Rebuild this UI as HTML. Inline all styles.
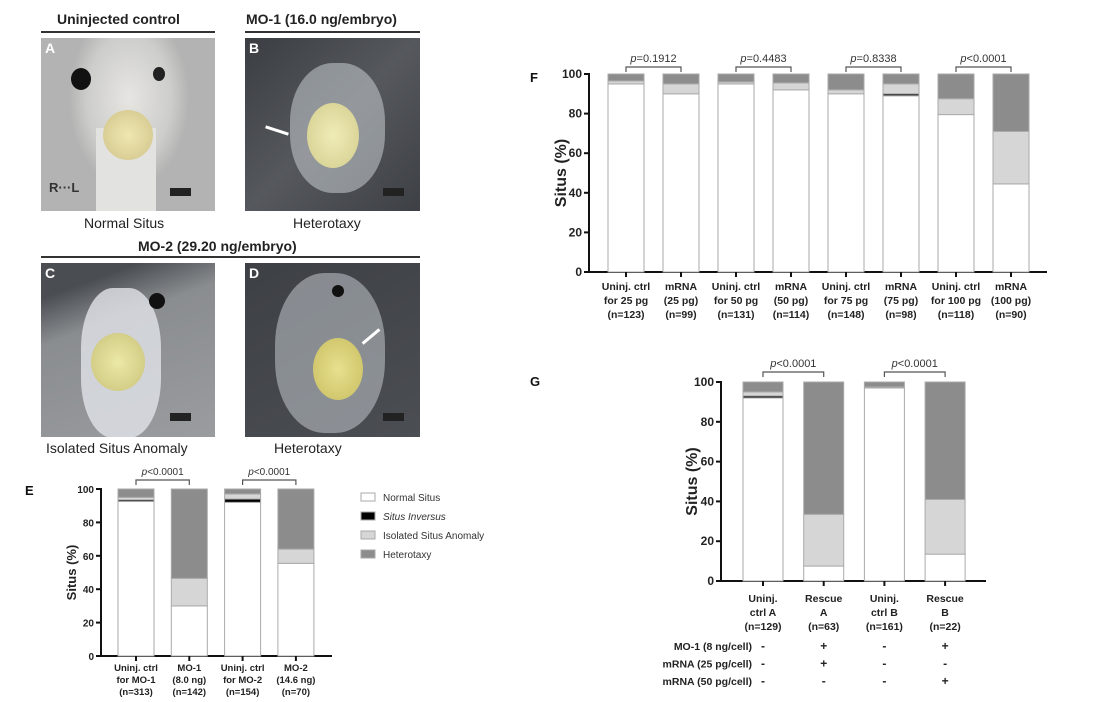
<!DOCTYPE html>
<html><head><meta charset="utf-8">
<style>
html,body{margin:0;padding:0;background:#fff;}
body{width:1109px;height:702px;position:relative;overflow:hidden;font-family:"Liberation Sans",Arial,sans-serif;}
.ph{position:absolute;overflow:hidden;}
.lbl{position:absolute;font-weight:bold;font-size:14px;color:#fff;}
.t{position:absolute;font-size:14px;color:#222;white-space:nowrap;}
.tb{position:absolute;font-size:14px;font-weight:bold;color:#222;white-space:nowrap;}
.line{position:absolute;height:2px;background:#333;}
.sb{position:absolute;width:21px;height:8px;background:#222;}
</style></head>
<body>
<div class="tb" style="left:57px;top:11px;">Uninjected control</div>
<div class="line" style="left:41px;top:31px;width:174px;"></div>
<div class="tb" style="left:246px;top:11px;font-weight:bold;">MO-1 (16.0 ng/embryo)</div>
<div class="line" style="left:245px;top:31px;width:175px;"></div>

<div class="ph" style="left:41px;top:38px;width:174px;height:173px;background:radial-gradient(ellipse 60px 90px at 88px 60px,#e6e5e2,#cdcdcb 70%,#b3b3b3);">
 <div style="position:absolute;left:55px;top:90px;width:60px;height:90px;background:#e2e2e0;"></div>
 <div style="position:absolute;left:30px;top:30px;width:20px;height:22px;border-radius:50%;background:#111;"></div>
 <div style="position:absolute;left:112px;top:29px;width:12px;height:14px;border-radius:50%;background:#222;"></div>
 <div style="position:absolute;left:62px;top:72px;width:50px;height:50px;border-radius:50%;background:radial-gradient(#efe6b0,#cfc48a);"></div>
 <div class="lbl" style="left:4px;top:2px;">A</div>
 <div class="tb" style="left:8px;top:142px;font-size:13px;color:#333;">R···L</div>
 <div class="sb" style="left:129px;top:150px;"></div>
</div>
<div class="ph" style="left:245px;top:38px;width:175px;height:173px;background:linear-gradient(135deg,#3a3d42,#55585d 50%,#3d4045);">
 <div style="position:absolute;left:45px;top:25px;width:95px;height:130px;border-radius:45%;background:rgba(200,205,210,0.55);"></div>
 <div style="position:absolute;left:62px;top:65px;width:52px;height:65px;border-radius:50%;background:radial-gradient(#f0ecb8,#d2cc8c);"></div>
 <div class="lbl" style="left:4px;top:2px;">B</div>
 <div style="position:absolute;left:20px;top:91px;width:24px;height:3px;background:#fff;transform:rotate(18deg);"></div>
 <div class="sb" style="left:138px;top:150px;"></div>
</div>
<div class="t" style="left:84px;top:215px;">Normal Situs</div>
<div class="t" style="left:293px;top:215px;">Heterotaxy</div>
<div class="tb" style="left:138px;top:238px;">MO-2 (29.20 ng/embryo)</div>
<div class="line" style="left:41px;top:256px;width:379px;"></div>

<div class="ph" style="left:41px;top:263px;width:174px;height:174px;background:linear-gradient(160deg,#4a4d52 15%,#8a8d90 35%,#9a9c9f);">
 <div style="position:absolute;left:40px;top:25px;width:80px;height:150px;border-radius:40%;background:rgba(225,228,232,0.8);"></div>
 <div style="position:absolute;left:108px;top:30px;width:16px;height:16px;border-radius:50%;background:#111;"></div>
 <div style="position:absolute;left:50px;top:70px;width:54px;height:58px;border-radius:50%;background:radial-gradient(#ece9a6,#c9c27a);"></div>
 <div class="lbl" style="left:4px;top:2px;">C</div>
 <div class="sb" style="left:129px;top:150px;"></div>
</div>
<div class="ph" style="left:245px;top:263px;width:175px;height:174px;background:linear-gradient(150deg,#3d4045,#4b4e53);">
 <div style="position:absolute;left:30px;top:10px;width:110px;height:160px;border-radius:45%;background:rgba(195,200,205,0.55);"></div>
 <div style="position:absolute;left:87px;top:22px;width:12px;height:12px;border-radius:50%;background:#111;"></div>
 <div style="position:absolute;left:68px;top:75px;width:50px;height:62px;border-radius:50%;background:radial-gradient(#e9e08f,#c7bd60);"></div>
 <div class="lbl" style="left:4px;top:2px;">D</div>
 <div style="position:absolute;left:115px;top:72px;width:22px;height:3px;background:#fff;transform:rotate(-40deg);"></div>
 <div class="sb" style="left:138px;top:150px;"></div>
</div>
<div class="t" style="left:46px;top:440px;">Isolated Situs Anomaly</div>
<div class="t" style="left:274px;top:440px;">Heterotaxy</div>

<svg id="svg" width="1109" height="702" style="position:absolute;left:0;top:0;" xmlns="http://www.w3.org/2000/svg"></svg>

<script>
// Panel E
const eCats = [["Uninj. ctrl","for MO-1","(n=313)"],["MO-1","(8.0 ng)","(n=142)"],["Uninj. ctrl","for MO-2","(n=154)"],["MO-2","(14.6 ng)","(n=70)"]];
const eNormal = [92.5, 30, 92, 55.5];
const eInversus = [1, 0, 2, 0];
const eIsolated = [1.5, 16.5, 3, 8.5];
const eHetero = [5, 53.5, 3, 36];
const ePvals = ["p<0.0001","p<0.0001"];
// Panel F
const fCats = [["Uninj. ctrl","for 25 pg","(n=123)"],["mRNA","(25 pg)","(n=99)"],["Uninj. ctrl","for 50 pg","(n=131)"],["mRNA","(50 pg)","(n=114)"],["Uninj. ctrl","for 75 pg","(n=148)"],["mRNA","(75 pg)","(n=98)"],["Uninj. ctrl","for 100 pg","(n=118)"],["mRNA","(100 pg)","(n=90)"]];
const fNormal = [95, 90, 95, 92, 90, 89, 79.5, 44.5];
const fInversus = [0, 0, 0, 0, 0, 1, 0, 0];
const fIsolated = [1.5, 5, 1, 3.5, 2, 5, 8, 26.5];
const fHetero = [3.5, 5, 4, 4.5, 8, 5, 12.5, 29];
const fPvals = ["p=0.1912","p=0.4483","p=0.8338","p<0.0001"];
// Panel G
const gCats = [["Uninj.","ctrl A","(n=129)"],["Rescue","A","(n=63)"],["Uninj.","ctrl B","(n=161)"],["Rescue","B","(n=22)"]];
const gNormal = [92, 7.5, 97, 13.5];
const gInversus = [1, 0, 0, 0];
const gIsolated = [2, 26, 0.5, 27.5];
const gHetero = [5, 66.5, 2.5, 59];
const gPvals = ["p<0.0001","p<0.0001"];
const gRowLabels = ["MO-1 (8 ng/cell)","mRNA (25 pg/cell)","mRNA (50 pg/cell)"];
const gRowSigns = [["-","+","-","+"],["-","+","-","-"],["-","-","-","+"]];
const yTicks = [0,20,40,60,80,100];
const legendLabels = ["Normal Situs","Situs Inversus","Isolated Situs Anomaly","Heterotaxy"];

const svg = document.getElementById('svg');
const NS = "http://www.w3.org/2000/svg";
function mk(tag, attrs, parent){const e=document.createElementNS(NS,tag);for(const k in attrs)e.setAttribute(k,attrs[k]);(parent||svg).appendChild(e);return e;}
function txt(x,y,s,attrs,parent){const e=mk('text',Object.assign({x:x,y:y},attrs),parent);e.textContent=s;return e;}
const fills = ["#ffffff","#000000","#d6d6d6","#8c8c8c"];

function chart(o){
  const g = mk('g',{});
  
  
  const yS = v => o.y0 + (o.y100 - o.y0) * v / 100;
  const xS = i => o.x0c + i * o.step;
  const ya = mk('line',{x1:o.ax,y1:yS(100)-1,x2:o.ax,y2:yS(0)+1,stroke:'#111','stroke-width':2},g);
  
  
  yTicks.forEach(t=>{
    mk('line',{x1:o.ax-5,y1:yS(t),x2:o.ax,y2:yS(t),stroke:'#111','stroke-width':2},g);
    const tl = txt(o.ax-7,yS(t)+4,String(t),{'text-anchor':'end','font-size':o.fs,'font-weight':'bold',fill:'#222'},g);
    
    
  });
  const xa = mk('line',{x1:o.ax-5,y1:yS(0),x2:o.axEnd,y2:yS(0),stroke:'#111','stroke-width':2},g);
  
  
  const yt = txt(0,0,'Situs (%)',{'text-anchor':'middle','font-size':o.tfs,'font-weight':'bold',fill:'#222',transform:`translate(${o.titleX},${(yS(0)+yS(100))/2}) rotate(-90)`},g);
  
  
  o.cats.forEach((c,i)=>{
    const cx = xS(i);
    const series=[o.n[i],o.si[i],o.isa[i],o.h[i]];
    let acc=0;
    series.forEach((v,k)=>{
      if(v<=0){return;}
      const r = mk('rect',{x:cx-o.bw/2,y:yS(acc+v),width:o.bw,height:yS(acc)-yS(acc+v),fill:fills[k],stroke:'#aaa','stroke-width':1},g);
      
      
      acc+=v;
    });
    mk('line',{x1:cx,y1:yS(0),x2:cx,y2:yS(0)+5,stroke:'#111','stroke-width':2},g);
    c.forEach((s,j)=>{
      const l = txt(cx,yS(0)+o.lab0+j*o.labStep,s,{'text-anchor':'middle','font-size':o.lfs,'font-weight':'bold',fill:'#222'},g);
      
      
    });
  });
  o.p.forEach((s,k)=>{
    const xa1 = xS(2*k), xb=xS(2*k+1), by=yS(100)-o.bOff;
    mk('path',{d:`M${xa1} ${by+5}V${by}H${xb}V${by+5}`,fill:'none',stroke:'#555','stroke-width':1.2},g);
    const pt = txt((xa1+xb)/2,by-5,'',{'text-anchor':'middle','font-size':o.pfs,fill:'#333'},g);
    
    
    const it = mk('tspan',{'font-style':'italic'},pt); it.textContent=s[0];
    const rt = mk('tspan',{},pt); rt.textContent=s.slice(1);
  });
  return {xS,yS};
}

chart({name:'chart-e',cats:eCats,n:eNormal,si:eInversus,isa:eIsolated,h:eHetero,p:ePvals,
  ax:101,axEnd:332,y0:656,y100:489,x0c:136,step:53.3,bw:36,fs:10,tfs:13,lfs:9.5,pfs:10,titleX:76,lab0:15,labStep:12,bOff:9});
chart({name:'chart-f',cats:fCats,n:fNormal,si:fInversus,isa:fIsolated,h:fHetero,p:fPvals,
  ax:589,axEnd:1047,y0:272,y100:74,x0c:626,step:55,bw:36,fs:12,tfs:16,lfs:10.5,pfs:11,titleX:566,lab0:18,labStep:14,bOff:7});
const G = chart({name:'chart-g',cats:gCats,n:gNormal,si:gInversus,isa:gIsolated,h:gHetero,p:gPvals,
  ax:721,axEnd:986,y0:581,y100:382,x0c:763,step:60.7,bw:40,fs:12,tfs:16,lfs:10.5,pfs:11,titleX:697,lab0:21,labStep:14,bOff:10});

gRowLabels.forEach((s,r)=>{
  const y = 650 + r*17.5;
  const l = txt(752,y,s,{'text-anchor':'end','font-size':10.5,'font-weight':'bold',fill:'#222'});
  
  
  gRowSigns[r].forEach((sg,i)=>{
    const t = txt(G.xS(i),y,sg,{'text-anchor':'middle','font-size':12,'font-weight':'bold',fill:'#222'});
    
    
  });
});

legendLabels.forEach((s,k)=>{
  const y = 493 + k*19;
  const r = mk('rect',{x:361,y:y,width:14,height:8,fill:fills[k],stroke:'#aaa','stroke-width':1});
  
  
  const t = txt(383,y+8,s,{'font-size':10,fill:'#333','font-style':k===1?'italic':'normal'});
  
  
});

[['E',25,495],['F',530,82],['G',530,386]].forEach(p=>{
  const t = txt(p[1],p[2],p[0],{'font-size':13,'font-weight':'bold',fill:'#111'});
  
  
});
</script>
</body></html>
